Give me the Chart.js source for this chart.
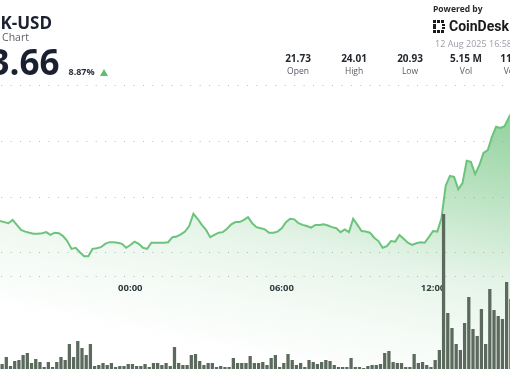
<!DOCTYPE html>
<html>
<head>
<meta charset="utf-8">
<script src="https://cdn.jsdelivr.net/npm/chart.js@4.4.1/dist/chart.umd.min.js"></script>
<style>
html, body { margin: 0; padding: 0; background: #fff; }
#wrap { position: relative; width: 510px; height: 369px; overflow: hidden; font-family: "Open Sans", sans-serif; }
#c { position: absolute; left: 0; top: 0; }
.t { position: absolute; white-space: nowrap; line-height: 1; }
.sym { right: 458px; top: 14.2px; font-size: 17px; font-weight: 700; color: #1b2030; }
.sub { right: 481px; top: 31.7px; font-size: 10.5px; color: #5a5f66; }
.last { right: 450.5px; top: 43.9px; font-size: 35px; font-weight: 700; color: #1b2030; }
.chg { left: 68.5px; top: 67px; font-size: 9px; font-weight: 700; color: #2b3038; }
.tri { position: absolute; left: 100px; top: 69px; width: 0; height: 0; border-left: 4.5px solid transparent; border-right: 4.5px solid transparent; border-bottom: 7px solid #5cbf6c; }
.stat { position: absolute; width: 56px; text-align: center; }
.stat .v { position: absolute; left: 0; width: 56px; top: 53.1px; font-size: 10px; font-weight: 700; color: #23272e; line-height: 1; }
.stat .l { position: absolute; left: 0; width: 56px; top: 66.5px; font-size: 8.5px; color: #555b63; line-height: 1; }
.pw { left: 433px; top: 4.5px; font-size: 8.5px; font-weight: 700; color: #2a2a2a; }
.cd { left: 449px; top: 19.2px; font-size: 14px; font-weight: 700; color: #1a1a1a; font-family: Roboto, sans-serif; }
.dt { left: 435px; top: 39px; font-size: 9px; color: #9a9ea4; }
#logo { position: absolute; left: 433px; top: 20px; }
</style>
</head>
<body>
<div id="wrap">
  <canvas id="c" width="510" height="369"></canvas>
  <div class="t sym">LINK-USD</div>
  <div class="t sub">24 Hour Chart</div>
  <div class="t last">23.66</div>
  <div class="t chg">8.87%</div>
  <div class="tri"></div>
  <div class="stat" style="left:270px"><div class="v">21.73</div><div class="l">Open</div></div>
  <div class="stat" style="left:326px"><div class="v">24.01</div><div class="l">High</div></div>
  <div class="stat" style="left:382px"><div class="v">20.93</div><div class="l">Low</div></div>
  <div class="stat" style="left:438px"><div class="v">5.15 M</div><div class="l">Vol</div></div>
  <div class="stat" style="left:494px"><div class="v">116.38 M</div><div class="l">Vol (USD)</div></div>
  <div class="t pw">Powered by</div>
  <svg id="logo" width="14" height="13" viewBox="0 0 14 13">
    <g fill="#1a1a1a">
      <rect x="0" y="0" width="3" height="3"/><rect x="4" y="0" width="3" height="3"/><rect x="8" y="0" width="3" height="3"/>
      <rect x="0" y="4" width="3" height="5"/><rect x="9" y="4" width="3" height="2"/><rect x="9" y="7" width="3" height="2"/>
      <rect x="0" y="10" width="3" height="3"/><rect x="4" y="10" width="3" height="3"/><rect x="8" y="10" width="3" height="3"/>
    </g>
  </svg>
  <div class="t cd">CoinDesk</div>
  <div class="t dt">12 Aug 2025 16:58 UTC</div>
</div>
<script>
// LINK-USD 24h chart, 10 minute steps. x is minutes from 00:00 (negative = previous day)
const priceStart = -310;
const priceStep = 10;
const prices = [
  21.57, 21.55, 21.53, 21.59, 21.50, 21.41, 21.38, 21.36, 21.34, 21.34,
  21.35, 21.37, 21.32, 21.36, 21.35, 21.30, 21.21, 21.07, 21.09, 21.01,
  20.94, 20.94, 21.07, 21.08, 21.10, 21.16, 21.19, 21.19, 21.18, 21.16,
  21.09, 21.14, 21.20, 21.16, 21.09, 21.07, 21.18, 21.18, 21.18, 21.18,
  21.19, 21.28, 21.29, 21.33, 21.38, 21.48, 21.70, 21.61, 21.50, 21.41,
  21.28, 21.32, 21.36, 21.37, 21.43, 21.51, 21.55, 21.55, 21.59, 21.64,
  21.53, 21.46, 21.44, 21.42, 21.36, 21.36, 21.38, 21.44, 21.55, 21.61,
  21.60, 21.53, 21.50, 21.48, 21.45, 21.50, 21.50, 21.51, 21.49, 21.46,
  21.44, 21.37, 21.42, 21.37, 21.61, 21.50, 21.39, 21.38, 21.36, 21.27,
  21.21, 21.09, 21.12, 21.21, 21.20, 21.32, 21.25, 21.18, 21.14, 21.17,
  21.19, 21.18, 21.28, 21.39, 21.38, 21.62, 22.20, 22.38, 22.36, 22.14,
  22.25, 22.65, 22.63, 22.41, 22.57, 22.79, 22.84, 23.08, 23.26, 23.24,
  23.27, 23.42, 23.56
];

// volume per 10 minute bar, thousand LINK
const volStart = -305;
const volumes = [
  10, 24, 6, 16, 18, 28, 32, 12, 20, 14, 4, 14, 4, 14, 24, 18, 50, 24, 56, 42,
  28, 50, 6, 8, 12, 8, 12, 4, 6, 6, 10, 10, 6, 6, 10, 4, 12, 12, 8, 12,
  6, 44, 12, 8, 8, 28, 30, 16, 8, 12, 12, 4, 6, 4, 4, 22, 12, 12, 12, 26,
  12, 12, 14, 8, 22, 28, 4, 12, 30, 18, 8, 12, 4, 18, 14, 10, 14, 18, 16, 8,
  4, 4, 4, 22, 4, 4, 2, 6, 8, 8, 10, 32, 36, 14, 12, 12, 4, 4, 30, 12,
  14, 8, 4, 18, 38, 310, 112, 82, 50, 38, 92, 144, 80, 66, 120, 50, 160, 118, 106, 100,
  174, 140
];

const tickMinutes = [0, 360, 720];
const tickLabels = ['00:00', '06:00', '12:00'];
const gridPrices = [21, 22, 23, 24];
const axisBase = 20.566;

const pricePoints = prices.map((p, i) => ({ x: priceStart + i * priceStep, y: p }));
const volPoints = volumes.map((v, i) => ({ x: volStart + i * priceStep, y: v }));

function areaFill(context) {
  const { ctx, chartArea } = context.chart;
  if (!chartArea) return null;
  const g = ctx.createLinearGradient(chartArea.right, chartArea.top + 100, chartArea.right - 60, chartArea.top + 400);
  g.addColorStop(0, 'rgba(96,188,112,0.72)');
  g.addColorStop(0.35, 'rgba(96,188,112,0.40)');
  g.addColorStop(0.6, 'rgba(96,188,112,0.16)');
  g.addColorStop(0.8, 'rgba(96,188,112,0.07)');
  g.addColorStop(1, 'rgba(96,188,112,0)');
  return g;
}

new Chart(document.getElementById('c'), {
  type: 'line',
  data: {
    datasets: [
      {
        type: 'bar',
        data: volPoints,
        yAxisID: 'yv',
        backgroundColor: '#5b6a5d',
        barPercentage: 0.78,
        categoryPercentage: 1,
        order: 0
      },
      {
        type: 'line',
        data: pricePoints,
        yAxisID: 'y',
        borderColor: '#6cc47c',
        borderWidth: 2,
        pointRadius: 0,
        tension: 0,
        fill: 'start',
        backgroundColor: areaFill,
        order: 1
      }
    ]
  },
  options: {
    responsive: false,
    animation: false,
    layout: { padding: 0 },
    plugins: { legend: { display: false }, tooltip: { enabled: false } },
    scales: {
      x: {
        type: 'linear',
        min: -310,
        max: 903,
        offset: false,
        position: { y: axisBase },
        grid: { display: false, drawTicks: false },
        border: { display: false },
        afterBuildTicks: (s) => { s.ticks = tickMinutes.map(v => ({ value: v })); },
        ticks: {
          padding: 6,
          color: '#2b313b',
          font: { family: 'Open Sans', size: 9.5, weight: '700' },
          maxRotation: 0,
          autoSkip: false,
          callback: (v) => tickLabels[tickMinutes.indexOf(v)]
        }
      },
      y: {
        position: 'right',
        min: 18.916,
        max: 25.533,
        afterBuildTicks: (s) => { s.ticks = [axisBase].concat(gridPrices).map(v => ({ value: v })); },
        ticks: { display: false },
        grid: { color: '#b9b9b9', lineWidth: 1, drawTicks: false },
        border: { display: false, dash: [1, 8.45], dashOffset: -1.2 }
      },
      yv: {
        display: false,
        min: 0,
        max: 738
      }
    }
  }
});
</script>
</body>
</html>
